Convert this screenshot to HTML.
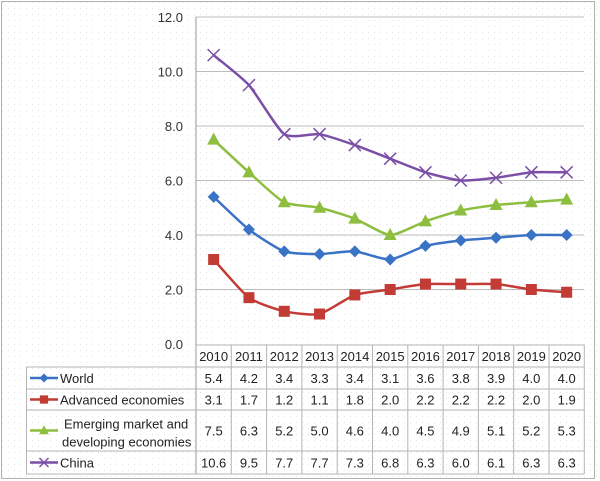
<!DOCTYPE html><html><head><style>
body{margin:0;background:#fff;}
svg{display:block;font-family:"Liberation Sans",sans-serif;}
</style></head><body>
<svg id="s" width="600" height="481" viewBox="0 0 600 481">
<defs><pattern id="d" width="6" height="6" patternUnits="userSpaceOnUse"><rect x="2" y="2" width="1" height="1" fill="#e4e4e4"/></pattern></defs>
<rect x="0" y="0" width="600" height="481" fill="#fff"/>
<rect x="0" y="0" width="600" height="481" fill="url(#d)"/>
<rect x="1.5" y="1.5" width="593" height="477" fill="none" stroke="#b0b0b0"/>
<g id="g"></g>
</svg>
<script>
var g=document.getElementById('g'),h='';
var X0=196,W=35.3,Y0=344,U=27.25;
function y(v){return Y0-v*U}
for(var v=2;v<=12;v+=2){h+='<line x1="196" x2="584" y1="'+y(v)+'" y2="'+y(v)+'" stroke="#bdbdbd" stroke-width="1"/>';}
for(var v=0;v<=12;v+=2){h+='<text x="183" y="'+(y(v)+5)+'" text-anchor="end" font-size="13" fill="#333">'+v.toFixed(1)+'</text>';}
h+='<line x1="196" x2="196" y1="17" y2="474" stroke="#999"/>';
var yrs=[2010,2011,2012,2013,2014,2015,2016,2017,2018,2019,2020];
var rows=[{n:'World',c:'#3a72c6',m:'d',d:[5.4,4.2,3.4,3.3,3.4,3.1,3.6,3.8,3.9,4.0,4.0],y1:367,y2:389},
{n:'Advanced economies',c:'#c23b35',m:'s',d:[3.1,1.7,1.2,1.1,1.8,2.0,2.2,2.2,2.2,2.0,1.9],y1:389,y2:410},
{n:'Emerging market and|developing economies',c:'#8dbe3f',m:'t',d:[7.5,6.3,5.2,5.0,4.6,4.0,4.5,4.9,5.1,5.2,5.3],y1:410,y2:451},
{n:'China',c:'#7b4fa6',m:'x',d:[10.6,9.5,7.7,7.7,7.3,6.8,6.3,6.0,6.1,6.3,6.3],y1:451,y2:474}];
var gc='#b5b5b5';
h+='<line x1="196" x2="584" y1="345" y2="345" stroke="'+gc+'"/>';
h+='<line x1="26" x2="584" y1="367" y2="367" stroke="'+gc+'"/>';
rows.forEach(function(r){h+='<line x1="26" x2="584" y1="'+r.y2+'" y2="'+r.y2+'" stroke="'+gc+'"/>';});
h+='<line x1="26.5" x2="26.5" y1="367" y2="474" stroke="'+gc+'"/>';
for(var i=1;i<=11;i++){var x=X0+i*W;h+='<line x1="'+x+'" x2="'+x+'" y1="345" y2="474" stroke="'+gc+'"/>';}
yrs.forEach(function(t,i){h+='<text x="'+(X0+W*i+W/2)+'" y="361" text-anchor="middle" font-size="13" fill="#222">'+t+'</text>';});
function mk(m,x,yy,c,s){s=s||1;
 if(m=='d')return '<polygon points="'+x+','+(yy-6*s)+' '+(x+6*s)+','+yy+' '+x+','+(yy+6*s)+' '+(x-6*s)+','+yy+'" fill="'+c+'"/>';
 if(m=='s')return '<rect x="'+(x-5.5*s)+'" y="'+(yy-5.5*s)+'" width="'+11*s+'" height="'+11*s+'" fill="'+c+'"/>';
 if(m=='t')return '<polygon points="'+x+','+(yy-7*s)+' '+(x+6.5*s)+','+(yy+5*s)+' '+(x-6.5*s)+','+(yy+5*s)+'" fill="'+c+'"/>';
 return '<path d="M'+(x-6*s)+' '+(yy-6*s)+'L'+(x+6*s)+' '+(yy+6*s)+'M'+(x+6*s)+' '+(yy-6*s)+'L'+(x-6*s)+' '+(yy+6*s)+'" stroke="'+c+'" stroke-width="1.5"/>';}
rows.forEach(function(r){
 var p=r.d.map(function(v,i){return [X0+W*i+W/2,y(v)]});
 var d='M'+p[0][0]+' '+p[0][1];
 for(var i=0;i<p.length-1;i++){var a=p[i-1]||p[i],b=p[i],c=p[i+1],e=p[i+2]||c,k=10;
  d+=' C'+(b[0]+(c[0]-a[0])/k)+' '+(b[1]+(c[1]-a[1])/k)+' '+(c[0]-(e[0]-b[0])/k)+' '+(c[1]-(e[1]-b[1])/k)+' '+c[0]+' '+c[1];}
 h+='<path d="'+d+'" fill="none" stroke="'+r.c+'" stroke-width="2.5"/>';
 p.forEach(function(q){h+=mk(r.m,q[0],q[1],r.c);});
 var cy=(r.y1+r.y2)/2;
 h+='<line x1="30" x2="58" y1="'+cy+'" y2="'+cy+'" stroke="'+r.c+'" stroke-width="2.5"/>'+mk(r.m,44,cy,r.c,0.75);
 var ns=r.n.split('|');
 if(ns.length==1)h+='<text x="60" y="'+(cy+5)+'" font-size="13" fill="#222">'+ns[0]+'</text>';
 else h+='<text x="64" y="'+(cy-2)+'" font-size="13" fill="#222">'+ns[0]+'</text><text x="62" y="'+(cy+16)+'" font-size="13" fill="#222">'+ns[1]+'</text>';
 r.d.forEach(function(v,i){h+='<text x="'+(X0+W*i+W/2)+'" y="'+(cy+5)+'" text-anchor="middle" font-size="13" fill="#222">'+v.toFixed(1)+'</text>';});
});
g.innerHTML=h;
</script>
</body></html>
